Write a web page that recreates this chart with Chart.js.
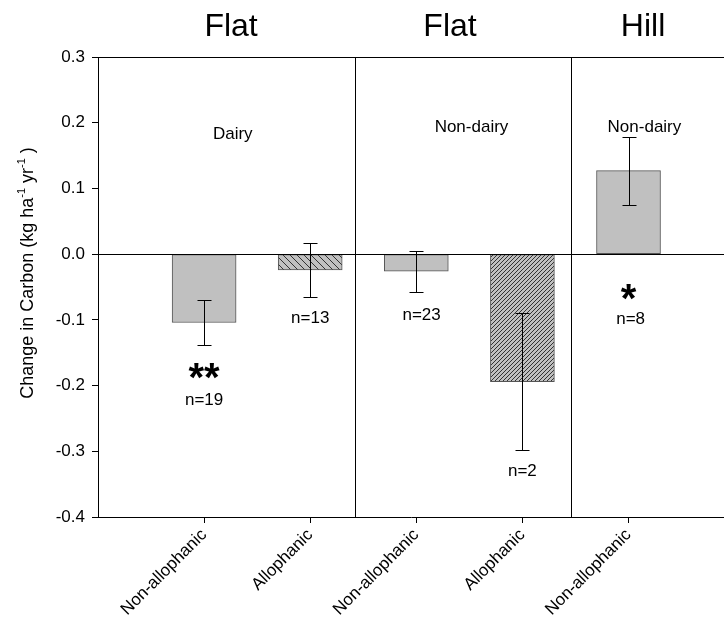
<!DOCTYPE html>
<html>
<head>
<meta charset="utf-8">
<script src="https://cdn.jsdelivr.net/npm/chart.js@4.4.1/dist/chart.umd.min.js"></script>
<style>
  html, body { margin: 0; padding: 0; background: #fff; }
  #wrap { width: 724px; height: 623px; position: relative; }
</style>
</head>
<body>
<div id="wrap"><canvas id="c"></canvas></div>
<script>
// ---- data ----
const categories = ['Non-allophanic', 'Allophanic', 'Non-allophanic', 'Allophanic', 'Non-allophanic'];
const means = [-0.104, -0.024, -0.026, -0.194, 0.127];
const errors = [0.034, 0.041, 0.031, 0.104, 0.052];
const nLabels = ['n=19', 'n=13', 'n=23', 'n=2', 'n=8'];
const sigLabels = ['**', '', '', '', '*'];
const groupTitles = ['Flat', 'Flat', 'Hill'];
const groupSubtitles = ['Dairy', 'Non-dairy', 'Non-dairy'];
const yTickValues = [0.3, 0.2, 0.1, 0.0, -0.1, -0.2, -0.3, -0.4];

// ---- layout (annotation placement, in axis units) ----
const xPositions = categories.map((_, i) => i + 1);
const separatorsX = [2.42, 4.46];
const groupTitleX = [1.254, 3.318, 5.137];
const groupSubtitleX = [1.27, 3.52, 5.15];
const groupSubtitleY = [0.183, 0.193, 0.193];
const nLabelY = [-0.223, -0.098, -0.093, -0.330, -0.099];
const nLabelDX = [0, 0, 0.05, 0, 0.02];
const sigLabelY = [-0.175, 0, 0, 0, -0.055];

const FONT = 'Liberation Sans, Arial, Helvetica, sans-serif';
Chart.defaults.font.family = FONT;
Chart.defaults.color = '#000';

function hatch(dir, s) {
  const c = document.createElement('canvas');
  c.width = s; c.height = s;
  const g = c.getContext('2d');
  g.fillStyle = '#c0c0c0';
  g.fillRect(0, 0, s, s);
  g.strokeStyle = '#333';
  g.lineWidth = 1;
  g.beginPath();
  for (let k = -1; k <= 1; k++) {
    if (dir === '\\') { g.moveTo(k * s, 0); g.lineTo(k * s + s, s); }
    else { g.moveTo(k * s, s); g.lineTo(k * s + s, 0); }
  }
  g.stroke();
  return g.createPattern(c, 'repeat');
}
const GRAY = '#c0c0c0';
const fills = [GRAY, hatch('\\', 7), GRAY, hatch('/', 4), GRAY];

const overlay = {
  id: 'overlay',
  afterDatasetsDraw(chart) {
    const { ctx, chartArea: a, scales: { x, y } } = chart;
    ctx.save();
    ctx.strokeStyle = '#000';
    ctx.lineWidth = 1;
    const line = (x1, y1, x2, y2) => { ctx.beginPath(); ctx.moveTo(x1, y1); ctx.lineTo(x2, y2); ctx.stroke(); };
    const y0 = Math.round(y.getPixelForValue(0)) + 0.5;
    line(a.left, y0, a.right, y0);
    line(a.left, a.top + 0.5, a.right, a.top + 0.5);
    separatorsX.forEach(v => {
      const px = Math.round(x.getPixelForValue(v)) + 0.5;
      line(px, a.top, px, a.bottom);
    });
    means.forEach((m, i) => {
      const px = Math.round(x.getPixelForValue(xPositions[i])) + 0.5;
      const yt = Math.round(y.getPixelForValue(m + errors[i])) + 0.5;
      const yb = Math.round(y.getPixelForValue(m - errors[i])) + 0.5;
      line(px, yt, px, yb);
      line(px - 7, yt, px + 7, yt);
      line(px - 7, yb, px + 7, yb);
    });
    ctx.fillStyle = '#000';
    ctx.textAlign = 'center';
    ctx.textBaseline = 'middle';
    ctx.font = '17px ' + FONT;
    nLabels.forEach((t, i) => {
      ctx.fillText(t, x.getPixelForValue(xPositions[i] + nLabelDX[i]), y.getPixelForValue(nLabelY[i]));
    });
    groupSubtitles.forEach((t, i) => {
      ctx.fillText(t, x.getPixelForValue(groupSubtitleX[i]), y.getPixelForValue(groupSubtitleY[i]));
    });
    ctx.font = 'bold 40px ' + FONT;
    ctx.textBaseline = 'alphabetic';
    sigLabels.forEach((t, i) => {
      if (!t) return;
      ctx.fillText(t, x.getPixelForValue(xPositions[i]), y.getPixelForValue(sigLabelY[i]) + 22);
    });
    ctx.restore();
  },
  afterDraw(chart) {
    const { ctx, scales: { x } } = chart;
    ctx.save();
    ctx.fillStyle = '#000';
    ctx.textAlign = 'center';
    ctx.textBaseline = 'alphabetic';
    ctx.font = '32px ' + FONT;
    groupTitles.forEach((t, i) => ctx.fillText(t, x.getPixelForValue(groupTitleX[i]), 36));
    // y axis title with superscripts
    const parts = [
      ['Change in Carbon (kg ha', 18, 0],
      ['-1', 11, -8],
      [' yr', 18, 0],
      ['-1', 11, -8],
      [' )', 18, 0]
    ];
    let total = 0;
    parts.forEach(p => { ctx.font = p[1] + 'px ' + FONT; total += ctx.measureText(p[0]).width; });
    ctx.translate(33, 273);
    ctx.rotate(-Math.PI / 2);
    ctx.textAlign = 'left';
    let cx = -total / 2;
    parts.forEach(p => {
      ctx.font = p[1] + 'px ' + FONT;
      ctx.fillText(p[0], cx, p[2]);
      cx += ctx.measureText(p[0]).width;
    });
    ctx.restore();
  }
};

new Chart(document.getElementById('c'), {
  type: 'bar',
  data: {
    datasets: [{
      data: means.map((m, i) => ({ x: xPositions[i], y: m })),
      backgroundColor: fills,
      borderColor: '#555',
      borderWidth: 1,
      borderSkipped: false,
      barThickness: 64
    }]
  },
  options: {
    responsive: true,
    maintainAspectRatio: false,
    animation: false,
    layout: { padding: { top: 57, right: 0, left: 0, bottom: 0 } },
    plugins: { legend: { display: false }, tooltip: { enabled: false }, title: { display: false } },
    scales: {
      x: {
        type: 'linear',
        offset: false,
        min: 0,
        max: 5.9,
        afterBuildTicks: (s) => { s.ticks = xPositions.map(v => ({ value: v })); },
        afterFit: (s) => { s.height = 106; s.paddingLeft = 0; s.paddingRight = 0; },
        ticks: {
          autoSkip: false,
          minRotation: 45,
          maxRotation: 45,
          font: { size: 17 },
          color: '#000',
          padding: 2,
          callback: (v) => { const i = xPositions.indexOf(v); return i >= 0 ? categories[i] : ''; }
        },
        grid: { display: true, offset: false, drawOnChartArea: false, drawTicks: true, tickLength: 6, color: '#000' },
        border: { display: true, color: '#000', width: 1 }
      },
      y: {
        min: -0.4,
        max: 0.3,
        afterBuildTicks: (s) => { s.ticks = yTickValues.map(v => ({ value: v })); },
        afterFit: (s) => { s.width = 98; },
        ticks: {
          font: { size: 17 },
          color: '#000',
          padding: 7,
          callback: (v) => Number(v).toFixed(1)
        },
        grid: { display: true, drawOnChartArea: false, drawTicks: true, tickLength: 6, color: '#000' },
        border: { display: true, color: '#000', width: 1 }
      }
    }
  },
  plugins: [overlay]
});
</script>
</body>
</html>
